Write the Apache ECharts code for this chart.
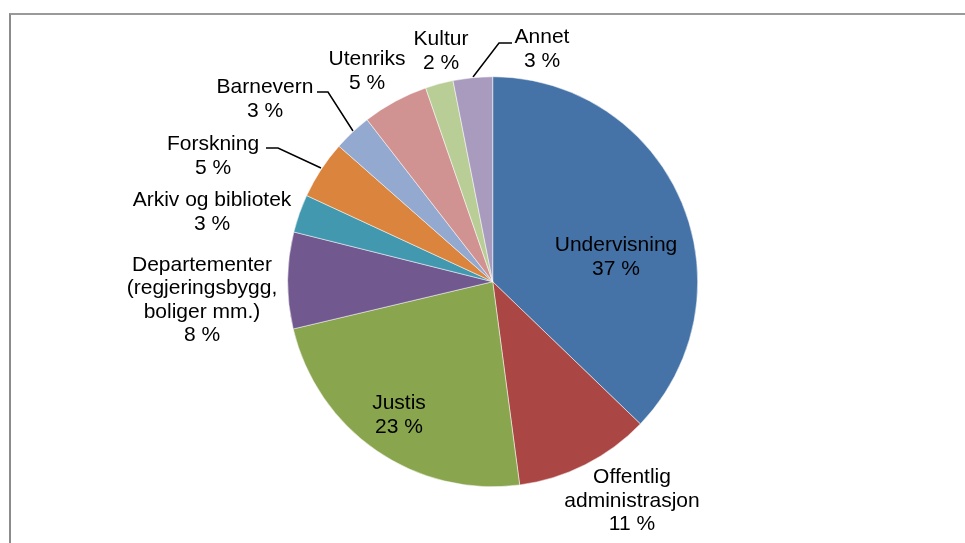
<!DOCTYPE html>
<html>
<head>
<meta charset="utf-8">
<script src="https://cdn.jsdelivr.net/npm/echarts@6/dist/echarts.min.js"></script>
<style>
  html, body { margin: 0; padding: 0; background: #fff; overflow: hidden; }
  #frame { position: absolute; left: 9px; top: 13px; width: 1000px; height: 600px;
           border-left: 2px solid #8c8c8c; border-top: 2px solid #9a9a9a; box-sizing: border-box; }
  #chart { position: absolute; left: 0; top: 0; width: 965px; height: 543px; }
</style>
</head>
<body>
<div id="frame"></div>
<div id="chart"></div>
<script>
// Data (share of total, %)
const categories = [
  'Undervisning',
  'Offentlig\nadministrasjon',
  'Justis',
  'Departementer\n(regjeringsbygg,\nboliger mm.)',
  'Arkiv og bibliotek',
  'Forskning',
  'Barnevern',
  'Utenriks',
  'Kultur',
  'Annet'
];
const values = [37.2, 10.7, 23.4, 7.6, 3.0, 4.6, 3.0, 5.2, 2.2, 3.1];
const colors = ['#4572A7', '#AA4643', '#89A54E', '#71588F', '#4198AF',
                '#DB843D', '#93A9CF', '#D19392', '#B9CD96', '#A99BBD'];
const showLeader = [false, false, false, false, false, true, true, false, false, true];

// Label placement (centre of text block) and leader lines
const labelPos = [
  [616, 257], [632, 501], [399, 415], [202, 300], [212, 212],
  [213, 156], [265, 99], [367, 71], [441, 51], [542, 49]
];
const leaderPts = {
  5: [[266, 148], [278, 148], [321, 168]],
  6: [[317, 92], [328, 92], [353, 131]],
  9: [[512, 43], [499, 43], [473, 77]]
};

const chart = echarts.init(document.getElementById('chart'));
chart.setOption({
  animation: false,
  series: [{
    type: 'pie',
    center: [492.7, 281.7],
    radius: 205,
    startAngle: 90,
    clockwise: true,
    percentPrecision: 0,
    avoidLabelOverlap: false,
    itemStyle: { borderColor: '#ffffff', borderWidth: 0.5 },
    label: {
      show: true,
      position: 'outside',
      formatter: p => p.name + '\n' + p.percent + ' %',
      color: '#000',
      fontFamily: '"Liberation Sans", Arial, sans-serif',
      fontSize: 21,
      lineHeight: 23.5,
      align: 'center'
    },
    labelLine: { show: false, lineStyle: { color: '#000', width: 1.5 }, smooth: false },
    labelLayout: function (params) {
      const i = params.dataIndex;
      const o = { x: labelPos[i][0], y: labelPos[i][1], align: 'center', verticalAlign: 'middle' };
      if (leaderPts[i]) o.labelLinePoints = leaderPts[i];
      return o;
    },
    data: categories.map((c, i) => ({
      name: c,
      value: values[i],
      itemStyle: { color: colors[i] },
      labelLine: { show: showLeader[i] }
    }))
  }]
});
</script>
</body>
</html>
